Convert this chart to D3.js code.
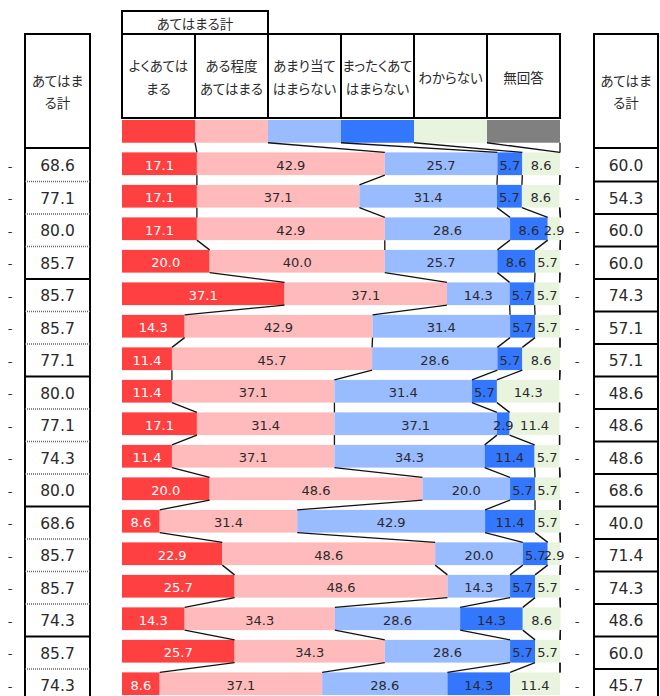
<!DOCTYPE html>
<html>
<head>
<meta charset="utf-8">
<script src="https://cdn.jsdelivr.net/npm/d3@7"></script>
<style>
  html, body { margin: 0; padding: 0; background: #fff; }
  svg { display: block; }
  .jp { font-family: "Noto Sans CJK JP", "Noto Sans", sans-serif; font-feature-settings: "palt"; }
  .num { font-family: "DejaVu Sans", Verdana, sans-serif; }
</style>
</head>
<body>
<svg id="chart" width="660" height="696"></svg>
<script>
// Response categories (stack order, left to right)
const seriesNames = ["よくあては\nまる", "ある程度\nあてはまる", "あまり当て\nはまらない", "まったくあて\nはまらない", "わからない", "無回答"];
const seriesColors = ["#FF4040", "#FFBBBB", "#99BBFF", "#3377FF", "#E9F4DF", "#808080"];

// Share of answers per item (%)
const veryTrue     = [17.1, 17.1, 17.1, 20.0, 37.1, 14.3, 11.4, 11.4, 17.1, 11.4, 20.0, 8.6, 22.9, 25.7, 14.3, 25.7, 8.6];
const somewhatTrue = [42.9, 37.1, 42.9, 40.0, 37.1, 42.9, 45.7, 37.1, 31.4, 37.1, 48.6, 31.4, 48.6, 48.6, 34.3, 34.3, 37.1];
const notVeryTrue  = [25.7, 31.4, 28.6, 25.7, 14.3, 31.4, 28.6, 31.4, 37.1, 34.3, 20.0, 42.9, 20.0, 14.3, 28.6, 28.6, 28.6];
const notTrueAtAll = [5.7, 5.7, 8.6, 8.6, 5.7, 5.7, 5.7, 5.7, 2.9, 11.4, 5.7, 11.4, 5.7, 5.7, 14.3, 5.7, 14.3];
const dontKnow     = [8.6, 8.6, 2.9, 5.7, 5.7, 5.7, 8.6, 14.3, 11.4, 5.7, 5.7, 5.7, 2.9, 5.7, 8.6, 5.7, 11.4];
const noAnswer     = [0, 0, 0, 0, 0, 0, 0, 0, 0, 0, 0, 0, 0, 0, 0, 0, 0];

// "あてはまる計" totals: earlier survey (left) and current survey (right)
const prevTotals = [68.6, 77.1, 80.0, 85.7, 85.7, 85.7, 77.1, 80.0, 77.1, 74.3, 80.0, 68.6, 85.7, 85.7, 74.3, 85.7, 74.3];
const currTotals = [60.0, 54.3, 60.0, 60.0, 74.3, 57.1, 57.1, 48.6, 48.6, 48.6, 68.6, 40.0, 71.4, 74.3, 48.6, 60.0, 45.7];
const changeMarks = ["-", "-", "-", "-", "-", "-", "-", "-", "-", "-", "-", "-", "-", "-", "-", "-", "-"];
// item groups end after these rows (solid separators in the left column)
const groupEnds = [4, 7, 11, 15];

const series = [veryTrue, somewhatTrue, notVeryTrue, notTrueAtAll, dontKnow, noAnswer];
const nRows = veryTrue.length;
const rows = d3.range(nRows).map(i => {
  const o = { id: i };
  series.forEach((s, k) => o["s" + k] = s[i]);
  return o;
});
const keys = series.map((s, k) => "s" + k);
const stacked = d3.stack().keys(keys)(rows);

const svg = d3.select("#chart");
const textColor = "#2a2a2a";

const x = d3.scaleLinear().domain([0, 100]).range([122, 560]);
const cellTop = 149, rowStep = 32.5;
const cells = d3.scaleBand().domain(d3.range(nRows)).range([cellTop, cellTop + rowStep * nRows]).padding(0);
const y = d3.scaleBand().domain(d3.range(nRows))
  .range([cellTop - 1.5, cellTop - 1.5 + rowStep * nRows]).paddingInner(0.3).paddingOuter(0.15);
const bh = y.bandwidth();

// legend bar: the six categories as equal blocks
const legendTop = 120, legendH = bh;
const legendX = d3.scaleBand().domain(d3.range(seriesNames.length)).range([122, 560]);
svg.append("g").selectAll("rect").data(seriesColors).join("rect")
  .attr("x", (d, i) => legendX(i)).attr("y", legendTop)
  .attr("width", legendX.bandwidth()).attr("height", legendH)
  .attr("fill", d => d);

// stacked bars
const barG = svg.append("g");
stacked.forEach((layer, k) => {
  barG.append("g").attr("fill", seriesColors[k])
    .selectAll("rect").data(layer).join("rect")
    .attr("x", d => x(d[0])).attr("y", (d, i) => y(i))
    .attr("width", d => Math.max(0, x(d[1]) - x(d[0]))).attr("height", bh);
});

// series lines connecting the segment boundaries of consecutive bars
const lineG = svg.append("g").attr("stroke", "#111").attr("stroke-width", 1.3).attr("fill", "none");
for (let k = 0; k < keys.length; k++) {
  const legendEdge = legendX(k) + legendX.bandwidth();
  lineG.append("line")
    .attr("x1", legendEdge).attr("y1", legendTop + legendH)
    .attr("x2", x(stacked[k][0][1])).attr("y2", y(0));
  for (let i = 0; i < nRows - 1; i++) {
    lineG.append("line")
      .attr("x1", x(stacked[k][i][1])).attr("y1", y(i) + bh)
      .attr("x2", x(stacked[k][i + 1][1])).attr("y2", y(i + 1));
  }
}

// value labels inside segments
const labelG = svg.append("g").attr("class", "num").attr("font-size", 13).attr("text-anchor", "middle");
stacked.forEach((layer, k) => {
  labelG.append("g").attr("fill", k === 0 ? "#fff" : textColor)
    .selectAll("text").data(layer.filter(d => d[1] - d[0] > 0)).join("text")
    .attr("x", d => (x(d[0]) + x(d[1])) / 2)
    .attr("y", d => y(d.data.id) + bh / 2 + 1.5)
    .attr("dominant-baseline", "central")
    .text(d => (d.data["s" + k]).toFixed(1));
});

// header table above the bars
const hdr = svg.append("g").attr("class", "jp");
const hdrTop = 34, hdrBottom = 118;
hdr.append("rect").attr("x", 122).attr("y", 11).attr("width", legendX(2) - 122).attr("height", hdrTop - 11)
  .attr("fill", "none").attr("stroke", "#000").attr("stroke-width", 2);
hdr.append("text").attr("x", (122 + legendX(2)) / 2).attr("y", 23).attr("text-anchor", "middle")
  .attr("dominant-baseline", "central").attr("font-size", 13.5).attr("fill", textColor).text("あてはまる計");
seriesNames.forEach((name, i) => {
  hdr.append("rect").attr("x", legendX(i)).attr("y", hdrTop).attr("width", legendX.bandwidth())
    .attr("height", hdrBottom - hdrTop).attr("fill", "none").attr("stroke", "#000").attr("stroke-width", 2);
  const lines = name.split("\n");
  const cy = (hdrTop + hdrBottom) / 2 + 0.5;
  lines.forEach((ln, j) => {
    hdr.append("text").attr("x", legendX(i) + legendX.bandwidth() / 2)
      .attr("y", cy + (j - (lines.length - 1) / 2) * 22.5)
      .attr("text-anchor", "middle").attr("dominant-baseline", "central")
      .attr("font-size", 13.5).attr("fill", textColor).text(ln);
  });
});

// total columns on both sides
function totalColumn(x0, x1, values, solidAfter) {
  const g = svg.append("g");
  const bottom = cellTop + rowStep * nRows + 5;
  g.append("line").attr("x1", x0).attr("x2", x1).attr("y1", hdrTop).attr("y2", hdrTop)
    .attr("stroke", "#000").attr("stroke-width", 2);
  g.append("line").attr("x1", x0).attr("x2", x1).attr("y1", cellTop - 1).attr("y2", cellTop - 1)
    .attr("stroke", "#000").attr("stroke-width", 2);
  [x0, x1].forEach(xx => g.append("line").attr("x1", xx).attr("x2", xx)
    .attr("y1", hdrTop - 1).attr("y2", bottom).attr("stroke", "#000").attr("stroke-width", 2));
  const cx = (x0 + x1) / 2;
  g.append("text").attr("class", "jp").attr("x", cx).attr("y", 80).attr("text-anchor", "middle")
    .attr("dominant-baseline", "central").attr("font-size", 13.5).attr("fill", textColor).text("あてはま");
  g.append("text").attr("class", "jp").attr("x", cx).attr("y", 102).attr("text-anchor", "middle")
    .attr("dominant-baseline", "central").attr("font-size", 13.5).attr("fill", textColor).text("る計");
  for (let i = 1; i < nRows; i++) {
    const yy = cells(i);
    const solid = solidAfter(i);
    g.append("line").attr("x1", x0).attr("x2", x1).attr("y1", yy).attr("y2", yy)
      .attr("stroke", solid ? "#000" : "#666")
      .attr("stroke-width", solid ? 2 : 1.5)
      .attr("stroke-dasharray", solid ? null : "1,1");
  }
  g.append("g").attr("class", "num").selectAll("text").data(values).join("text")
    .attr("x", cx).attr("y", (d, i) => cells(i) + rowStep / 2 + 1)
    .attr("text-anchor", "middle").attr("dominant-baseline", "central")
    .attr("font-size", 15.5).attr("fill", textColor).text(d => d.toFixed(1));
}
totalColumn(25, 90, prevTotals, i => groupEnds.includes(i));
totalColumn(594, 658, currTotals, () => true);

// change marks beside the total columns
const markG = svg.append("g").attr("class", "num").attr("font-size", 13).attr("fill", textColor).attr("text-anchor", "middle");
markG.selectAll("text.l").data(changeMarks).join("text").attr("class", "l")
  .attr("x", 10).attr("y", (d, i) => cells(i) + rowStep / 2 + 1).attr("dominant-baseline", "central").text(d => d);
markG.selectAll("text.r").data(changeMarks).join("text").attr("class", "r")
  .attr("x", 577).attr("y", (d, i) => cells(i) + rowStep / 2 + 1).attr("dominant-baseline", "central").text(d => d);
</script>
</body>
</html>
